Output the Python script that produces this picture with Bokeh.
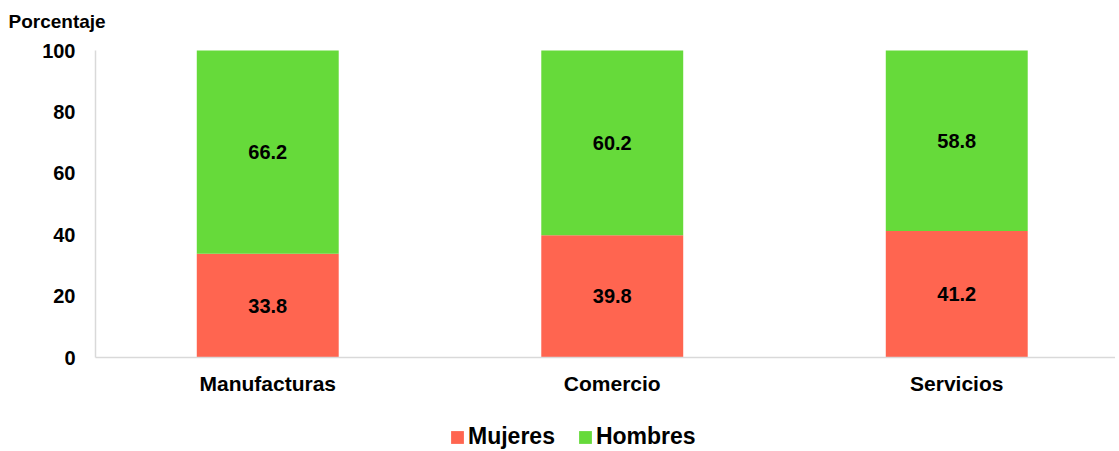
from bokeh.plotting import figure
from bokeh.models import (Range1d, FixedTicker, Legend, LegendItem, Label,
                          ColumnDataSource, LabelSet)
from bokeh.embed import file_html
from bokeh.resources import INLINE
from bokeh.core.properties import value

categories = ["Manufacturas", "Comercio", "Servicios"]
mujeres = [33.8, 39.8, 41.2]
hombres = [66.2, 60.2, 58.8]
y_ticks = [0, 20, 40, 60, 80, 100]
series = ["Mujeres", "Hombres"]
colors = ["#FF6550", "#66DA3A"]

FONT = "Liberation Sans"
W, H = 1115, 450
LEFT, TOP, ZERO = 95, 50, 357          # pixel positions of axis origin / 100 line
BAND = 344.5                            # pixels per category
PXU = (ZERO - TOP) / 100.0              # pixels per percent

x = [i + 0.5 for i in range(len(categories))]
src = ColumnDataSource(dict(
    x=x,
    Mujeres=mujeres,
    Hombres=hombres,
    m_mid=[m / 2 for m in mujeres],
    h_mid=[m + h / 2 for m, h in zip(mujeres, hombres)],
    m_txt=[f"{m:.1f}" for m in mujeres],
    h_txt=[f"{h:.1f}" for h in hombres],
))

x_end = (W - LEFT) / BAND
p = figure(width=W, height=H, output_backend="svg", toolbar_location=None,
           x_range=Range1d(-LEFT / BAND, x_end),
           y_range=Range1d(-(H - ZERO) / PXU, 100 + TOP / PXU),
           min_border=0, outline_line_color=None, title=None)
p.background_fill_color = "white"
p.border_fill_color = "white"

rs = p.vbar_stack(series, x="x", width=0.412, color=colors, line_color=None, source=src)

for ycol, tcol in (("m_mid", "m_txt"), ("h_mid", "h_txt")):
    ls = LabelSet(x="x", y=ycol, text=tcol, source=src, text_align="center",
                  text_baseline="middle", text_font=value(FONT),
                  text_font_style="bold", text_font_size="20px", text_color="black")
    p.add_layout(ls)

p.xgrid.visible = False
p.ygrid.visible = False

p.xaxis.fixed_location = 0
p.xaxis.bounds = (0, x_end)
p.xaxis.ticker = FixedTicker(ticks=x)
p.xaxis.major_label_overrides = {xi: c for xi, c in zip(x, categories)}
p.yaxis.fixed_location = 0
p.yaxis.bounds = (0, 100)
p.yaxis.ticker = FixedTicker(ticks=y_ticks)

for ax in (p.xaxis[0], p.yaxis[0]):
    ax.axis_line_color = "#D9D9D9"
    ax.axis_line_width = 1.5
    ax.major_tick_line_color = None
    ax.minor_tick_line_color = None
    ax.major_tick_out = 0
    ax.major_tick_in = 0
    ax.major_label_text_font = FONT
    ax.major_label_text_font_style = "bold"
    ax.major_label_text_color = "black"

p.yaxis.major_label_text_font_size = "20px"
p.yaxis.major_label_standoff = 20
p.xaxis.major_label_text_font_size = "21px"
p.xaxis.major_label_standoff = 14

title = Label(x=(8 - LEFT) / BAND, y=100 + (TOP - 20.5) / PXU, text="Porcentaje",
              text_align="left", text_baseline="alphabetic", text_font=FONT,
              text_font_style="bold", text_font_size="19px", text_color="black")
p.add_layout(title)

legend = Legend(items=[LegendItem(label=s, renderers=[r]) for s, r in zip(series, rs)],
                orientation="horizontal", location=(449, 0),
                glyph_width=16, glyph_height=16, label_height=16,
                label_standoff=3, spacing=22, padding=0, margin=0,
                border_line_color=None, background_fill_alpha=0,
                label_text_font=FONT, label_text_font_style="bold",
                label_text_font_size="23px", label_text_color="black")
p.add_layout(legend, "center")

open("out.html", "w").write(file_html(p, INLINE))
